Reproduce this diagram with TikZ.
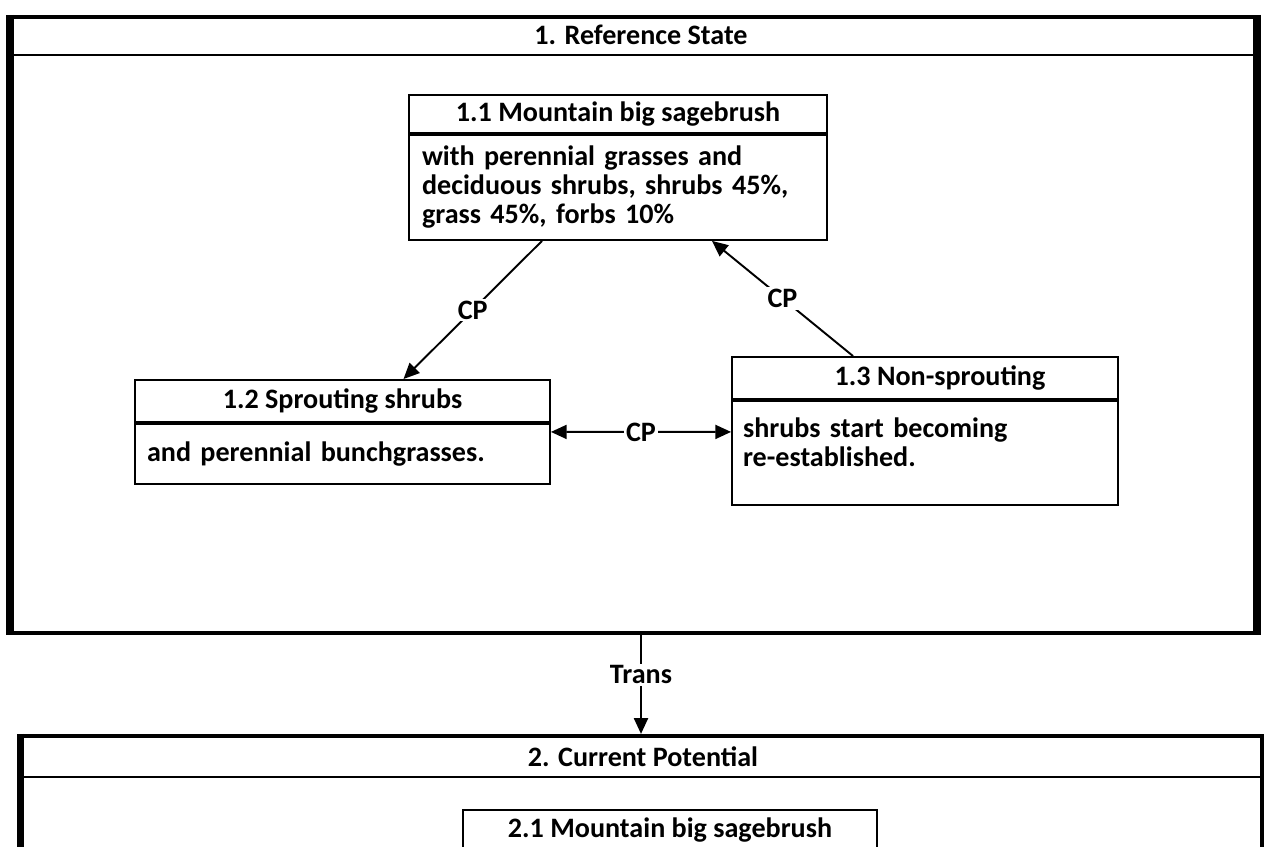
\documentclass[tikz,border=0pt]{standalone}
\usepackage{fontspec}
\setmainfont{Carlito}
\usetikzlibrary{arrows.meta}

\newcommand{\statefont}{\fontsize{16}{16.5}\selectfont\bfseries}

\tikzset{
  >={Triangle[length=9pt,width=8pt]},
  hdr/.style={draw, line width=1.1pt, inner sep=0pt, font=\statefont},
  body/.style={draw, line width=1.1pt, inner sep=0pt, align=left, anchor=north, font=\statefont},
  arr/.style={line width=1.1pt},
  lbl/.style={fill=white, inner sep=1pt, font=\statefont},
  frame/.style={draw, line width=2.4pt}
}

\begin{document}
\begin{tikzpicture}[x=0.02cm, y=-0.02cm]
\useasboundingbox (0,0) rectangle (1265,846);
\clip (0,0) rectangle (1265,846);

% 1. reference state
\node[frame, minimum width=24.86cm, minimum height=12.32cm] (ref) at (633.5,325) {};
\draw[line width=5pt] (ref.north west) -- (ref.south west);
\draw[line width=5pt] (ref.north east) -- (ref.south east);
\coordinate (refh) at (0,55);
\draw[line width=1.4pt] (ref.west |- refh) -- (ref.east |- refh);
\node[font=\statefont] (reftitle) at (641,35) {1. Reference State};

\node[hdr, minimum width=8.36cm, minimum height=0.76cm] (s11h) at (618,114) {1.1 Mountain big sagebrush};
\node[body, text width=7.84cm, minimum width=8.36cm, minimum height=2.1cm] (s11b) at (s11h.south)
  {with perennial grasses and\\deciduous shrubs, shrubs 45\%,\\grass 45\%, forbs 10\%};

\node[hdr, minimum width=8.3cm, minimum height=0.84cm] (s12h) at (342.5,401) {1.2 Sprouting shrubs};
\node[body, text width=7.82cm, minimum width=8.3cm, minimum height=1.2cm] (s12b) at (s12h.south)
  {and perennial bunchgrasses.};

\node[hdr, minimum width=7.72cm, minimum height=0.84cm] (s13h) at (925,378) {\hspace{0.6cm}1.3 Non-sprouting};
\node[body, text width=7.28cm, minimum width=7.72cm, minimum height=2.08cm] (s13b) at (s13h.south)
  {shrubs start becoming\\re-established.\\[-4pt]\mbox{}};

% transitions inside the state
\draw[arr, ->] ([xshift=-1.52cm]s11b.south) -- node[lbl] {CP} ([xshift=1.22cm]s12h.north);
\draw[arr, ->] ([xshift=-1.44cm]s13h.north) -- node[lbl] {CP} ([xshift=1.88cm]s11b.south);
\draw[arr, <->] ([yshift=0.44cm]s12b.east) -- node[lbl] {CP} ([yshift=0.42cm]s13b.west);

% 2. current potential
\node[frame, minimum width=24.8cm, minimum height=3.28cm] (cur) at (642,818) {};
\draw[line width=4pt] (cur.north west) -- (cur.south west);
\coordinate (curh) at (0,777);
\draw[line width=1.4pt] (cur.west |- curh) -- (cur.east |- curh);
\node[font=\statefont] (curtitle) at (643,757) {2. Current Potential};

\node[hdr, minimum width=8.28cm, minimum height=0.8cm] (s21h) at (670,830) {2.1 Mountain big sagebrush};

\draw[arr, ->] (ref.south -| reftitle) -- node[lbl, pos=0.4] {Trans} (cur.north -| reftitle);
\end{tikzpicture}
\end{document}
